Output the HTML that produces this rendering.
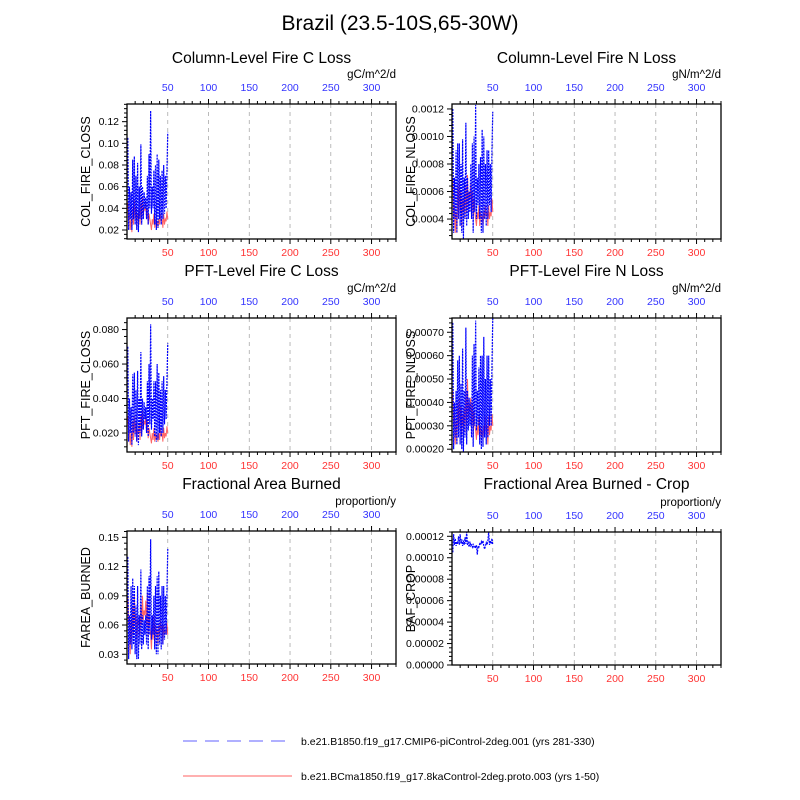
<!DOCTYPE html>
<html><head><meta charset="utf-8"><style>
body{margin:0;background:#fff}
svg{display:block;font-family:"Liberation Sans",sans-serif}
</style></head><body>
<svg id="chart" width="800" height="800" viewBox="0 0 800 800">
<text x="400" y="30" font-size="21" text-anchor="middle">Brazil (23.5-10S,65-30W)</text>
<g>
<line x1="183" y1="741" x2="292" y2="741" stroke="#8080ff" stroke-width="1.2" stroke-dasharray="14,8"/>
<text x="301" y="745" font-size="10.5">b.e21.B1850.f19_g17.CMIP6-piControl-2deg.001 (yrs 281-330)</text>
<line x1="183" y1="776" x2="292" y2="776" stroke="#ff8080" stroke-width="1.2"/>
<text x="301" y="780" font-size="10.5">b.e21.BCma1850.f19_g17.8kaControl-2deg.proto.003 (yrs 1-50)</text>
</g>
</svg>
<script>
const years = Array.from({length:50},(_,i)=>i+1);
const xTicks = [50,100,150,200,250,300];
const ccBlue=[0.105,0.02,0.06,0.03,0.055,0.02,0.085,0.03,0.088,0.025,0.07,0.02,0.082,0.018,0.06,0.03,0.099,0.025,0.06,0.03,0.055,0.04,0.05,0.03,0.07,0.025,0.09,0.04,0.13,0.035,0.06,0.04,0.075,0.025,0.08,0.02,0.09,0.022,0.085,0.03,0.07,0.025,0.075,0.03,0.08,0.035,0.07,0.04,0.075,0.11];
const ccRed=[0.045,0.03,0.035,0.02,0.03,0.018,0.04,0.025,0.048,0.03,0.04,0.022,0.035,0.03,0.04,0.025,0.045,0.03,0.05,0.035,0.04,0.038,0.045,0.03,0.04,0.025,0.035,0.03,0.025,0.02,0.03,0.025,0.035,0.022,0.03,0.025,0.028,0.022,0.03,0.025,0.035,0.028,0.03,0.022,0.035,0.025,0.03,0.028,0.037,0.03];
const cnBlue=[0.0012,0.0003,0.0007,0.0004,0.0009,0.0003,0.00095,0.0004,0.00095,0.00035,0.0008,0.0003,0.00098,0.00025,0.0007,0.0004,0.0011,0.00035,0.0007,0.0004,0.0006,0.00045,0.0008,0.0004,0.00095,0.0003,0.001,0.00045,0.00123,0.0004,0.0007,0.0005,0.0008,0.0004,0.00085,0.0003,0.00105,0.0003,0.001,0.0004,0.0008,0.00035,0.0009,0.0004,0.0009,0.0005,0.0008,0.00045,0.0009,0.00118];
const cnRed=[0.0007,0.0004,0.0005,0.0003,0.00045,0.0003,0.00065,0.0004,0.00068,0.00045,0.0006,0.00035,0.00055,0.00045,0.00058,0.0004,0.00065,0.00045,0.00072,0.0005,0.0006,0.00055,0.00065,0.00045,0.0006,0.0004,0.00055,0.00045,0.0004,0.00035,0.00045,0.0004,0.0005,0.00035,0.00045,0.0004,0.00042,0.00035,0.00045,0.0004,0.0005,0.00042,0.00045,0.00035,0.0005,0.0004,0.00045,0.00042,0.00055,0.00045];
const pcBlue=[0.07,0.015,0.04,0.02,0.035,0.013,0.054,0.02,0.055,0.018,0.045,0.015,0.056,0.013,0.04,0.02,0.067,0.018,0.04,0.022,0.038,0.028,0.035,0.02,0.05,0.018,0.06,0.025,0.083,0.022,0.04,0.028,0.05,0.018,0.05,0.015,0.06,0.016,0.055,0.02,0.045,0.018,0.05,0.02,0.053,0.025,0.045,0.028,0.05,0.072];
const pcRed=[0.03,0.02,0.022,0.013,0.02,0.012,0.027,0.016,0.03,0.02,0.026,0.015,0.022,0.02,0.026,0.016,0.03,0.02,0.033,0.022,0.027,0.025,0.03,0.02,0.027,0.017,0.023,0.02,0.017,0.014,0.02,0.016,0.023,0.015,0.02,0.016,0.019,0.015,0.02,0.016,0.023,0.018,0.02,0.015,0.023,0.017,0.02,0.018,0.024,0.02];
const pnBlue=[0.00074,0.0002,0.0004,0.00025,0.00045,0.00022,0.00058,0.00025,0.0006,0.00022,0.00048,0.0002,0.00063,0.00019,0.00045,0.00025,0.00072,0.00022,0.00045,0.00028,0.00042,0.0003,0.0004,0.00025,0.0006,0.00021,0.00065,0.0003,0.00075,0.00028,0.00045,0.0003,0.00055,0.00022,0.0006,0.0002,0.0006,0.00021,0.00068,0.00025,0.0005,0.00022,0.0006,0.00025,0.0006,0.0003,0.0005,0.0003,0.00055,0.00076];
const pnRed=[0.00045,0.0003,0.00035,0.00022,0.00032,0.00023,0.0004,0.00028,0.00042,0.0003,0.00038,0.00026,0.00035,0.0003,0.00038,0.00027,0.00045,0.0003,0.0005,0.00033,0.0004,0.00036,0.00042,0.0003,0.0004,0.00026,0.00036,0.0003,0.00028,0.00024,0.0003,0.00026,0.00034,0.00024,0.0003,0.00026,0.00028,0.00024,0.0003,0.00026,0.00034,0.00028,0.0003,0.00022,0.00034,0.00026,0.0003,0.00028,0.00035,0.0003];
const faBlue=[0.13,0.025,0.07,0.04,0.1,0.035,0.108,0.04,0.1,0.03,0.08,0.025,0.1,0.025,0.07,0.04,0.117,0.035,0.07,0.04,0.065,0.05,0.07,0.04,0.1,0.035,0.11,0.05,0.148,0.045,0.07,0.05,0.09,0.035,0.1,0.03,0.11,0.03,0.115,0.04,0.09,0.035,0.1,0.04,0.1,0.045,0.09,0.05,0.095,0.138];
const faRed=[0.09,0.06,0.07,0.03,0.065,0.04,0.08,0.05,0.09,0.06,0.07,0.045,0.065,0.06,0.07,0.05,0.08,0.06,0.09,0.065,0.075,0.07,0.085,0.06,0.093,0.05,0.07,0.06,0.05,0.035,0.06,0.045,0.07,0.04,0.06,0.05,0.055,0.04,0.06,0.05,0.065,0.055,0.06,0.04,0.06,0.05,0.055,0.05,0.062,0.05];
const bafBlue=[0.000105,0.000122,0.000112,0.000118,0.000111,0.000115,0.000113,0.00012,0.000112,0.000122,0.000113,0.000117,0.000111,0.000116,0.000112,0.000119,0.000113,0.000124,0.000112,0.000114,0.00011,0.000115,0.000111,0.000112,0.00011,0.000113,0.00011,0.000111,0.000109,0.000112,0.000103,0.000111,0.00011,0.000113,0.000112,0.000115,0.000113,0.000116,0.000111,0.000108,0.000111,0.000114,0.000112,0.000116,0.000124,0.000112,0.000116,0.000113,0.000118,0.000112];
const ccTicks=[0.02,0.04,0.06,0.08,0.10,0.12];
const cnTicks=[0.0004,0.0006,0.0008,0.0010,0.0012];
const pcTicks=[0.020,0.040,0.060,0.080];
const pnTicks=[0.0002,0.0003,0.0004,0.0005,0.0006,0.0007];
const faTicks=[0.03,0.06,0.09,0.12,0.15];
const bafTicks=[0,0.00002,0.00004,0.00006,0.00008,0.00010,0.00012];

const NS="http://www.w3.org/2000/svg";
const svg=document.getElementById('chart');
function mk(tag,attrs,parent){const e=document.createElementNS(NS,tag);for(const k in attrs)e.setAttribute(k,attrs[k]);(parent||svg).appendChild(e);return e;}

const panels=[
 {key:'col-fire-closs',title:'Column-Level Fire C Loss',unit:'gC/m^2/d',ylab:'COL_FIRE_CLOSS',x0:127,y0:104,y1:239,ymin:0.0117,ymax:0.1363,ticks:ccTicks,dec:2,blue:ccBlue,red:ccRed,ty:57},
 {key:'col-fire-nloss',title:'Column-Level Fire N Loss',unit:'gN/m^2/d',ylab:'COL_FIRE_NLOSS',x0:452,y0:104,y1:239,ymin:0.000255,ymax:0.001236,ticks:cnTicks,dec:4,blue:cnBlue,red:cnRed,ty:57},
 {key:'pft-fire-closs',title:'PFT-Level Fire C Loss',unit:'gC/m^2/d',ylab:'PFT_FIRE_CLOSS',x0:127,y0:318,y1:452,ymin:0.009,ymax:0.0867,ticks:pcTicks,dec:3,blue:pcBlue,red:pcRed,ty:270},
 {key:'pft-fire-nloss',title:'PFT-Level Fire N Loss',unit:'gN/m^2/d',ylab:'PFT_FIRE_NLOSS',x0:452,y0:318,y1:452,ymin:0.000188,ymax:0.000761,ticks:pnTicks,dec:5,blue:pnBlue,red:pnRed,ty:270},
 {key:'farea-burned',title:'Fractional Area Burned',unit:'proportion/y',ylab:'FAREA_BURNED',x0:127,y0:531,y1:664,ymin:0.020,ymax:0.1565,ticks:faTicks,dec:2,blue:faBlue,red:faRed,ty:483},
 {key:'baf-crop',title:'Fractional Area Burned - Crop',unit:'proportion/y',ylab:'BAF_CROP',x0:452,y0:532,y1:665,ymin:0,ymax:0.000124,ticks:bafTicks,dec:5,blue:bafBlue,red:null,ty:483}
];
const W=269, XMIN=0, XMAX=330;

panels.forEach(p=>{
 const g=mk('g',{});
 
 
 const xs=v=>p.x0+(v-XMIN)/(XMAX-XMIN)*W;
 const ys=v=>p.y1-(v-p.ymin)/(p.ymax-p.ymin)*(p.y1-p.y0);
 const t=mk('text',{x:p.x0+W/2,y:p.ty+6,'font-size':15.5,'text-anchor':'middle'},g);t.textContent=p.title;
 
 const u=mk('text',{x:p.x0+W,y:p.y0-26,'font-size':11.5,'text-anchor':'end'},g);u.textContent=p.unit;
 
 xTicks.forEach(v=>{const l=mk('line',{x1:xs(v),x2:xs(v),y1:p.y0,y2:p.y1,stroke:'#aaa','stroke-width':0.8,'stroke-dasharray':'4,4'},g);
  });
 for(let v=10;v<=XMAX;v+=10){const maj=v%50===0;const L=maj?5:3;
  mk('line',{x1:xs(v),x2:xs(v),y1:p.y0,y2:p.y0-L,stroke:'#000','stroke-width':1},g);
  mk('line',{x1:xs(v),x2:xs(v),y1:p.y1,y2:p.y1+L,stroke:'#000','stroke-width':1},g);}
 xTicks.forEach(v=>{
  const a=mk('text',{x:xs(v),y:p.y0-13,'font-size':10.5,fill:'#3333ff','text-anchor':'middle'},g);a.textContent=v;
  
  const b=mk('text',{x:xs(v),y:p.y1+17,'font-size':10.5,fill:'#ff3333','text-anchor':'middle'},g);b.textContent=v;
  
 });
 const step=p.ticks[1]-p.ticks[0], mstep=step/5;
 for(let v=p.ticks[0]-5*mstep;v<=p.ymax+1e-12;v+=mstep){if(v<p.ymin-1e-12)continue;
  const k=Math.round((v-p.ticks[0])/mstep);const maj=k%5===0;
  mk('line',{x1:p.x0,x2:p.x0-(maj?5:3),y1:ys(v),y2:ys(v),stroke:'#000','stroke-width':1},g);}
 p.ticks.forEach(v=>{const tl=mk('text',{x:p.x0-8,y:ys(v)+3.5,'font-size':10.5,'text-anchor':'end'},g);tl.textContent=v.toFixed(p.dec);
  });
 const yl=mk('text',{x:0,y:0,'font-size':12.5,'text-anchor':'middle',transform:`translate(${p.x0-37},${(p.y0+p.y1)/2}) rotate(-90)`},g);yl.textContent=p.ylab;
 
 if(p.red){const d=p.red.map((v,i)=>(i?'L':'M')+xs(years[i]).toFixed(2)+','+ys(v).toFixed(2)).join('');
  const r=mk('path',{d:d,fill:'none',stroke:'#ff6666','stroke-width':1},g);
  }
 const d2=p.blue.map((v,i)=>(i?'L':'M')+xs(years[i]).toFixed(2)+','+ys(v).toFixed(2)).join('');
 const bl=mk('path',{d:d2,fill:'none',stroke:'#0000ff','stroke-width':1.2,'stroke-dasharray':'2,1'},g);
 
 const box=mk('rect',{x:p.x0,y:p.y0,width:W,height:p.y1-p.y0,fill:'none',stroke:'#000','stroke-width':1.3},g);
 
});
</script>
</body></html>
